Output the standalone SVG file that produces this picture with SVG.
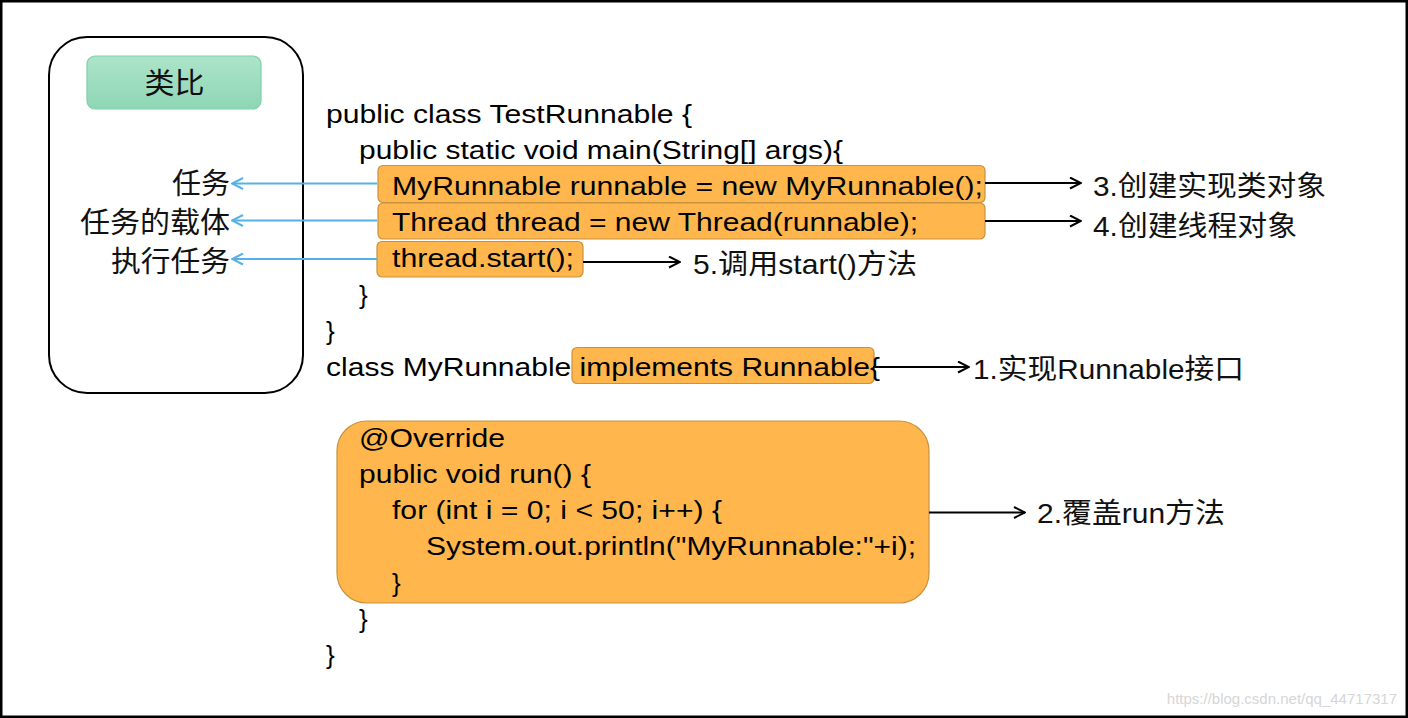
<svg xmlns="http://www.w3.org/2000/svg" width="1408" height="718" viewBox="0 0 1408 718">
<style>
.code{font-family:"Liberation Sans",Arial,sans-serif;font-size:26px;fill:#000}
.lbl{font-family:"Noto Sans CJK SC","Liberation Sans",sans-serif;font-size:29px;fill:#111}
.note{font-family:"Liberation Sans","Noto Sans CJK SC",sans-serif;font-size:28px;fill:#111}
.hl{fill:#FFB74D;stroke:#C9923F;stroke-width:1.2}
.blk{stroke:#000;stroke-width:2;fill:none}
.blu{stroke:#56B2E6;stroke-width:2.2;fill:none}
</style>
<defs>
<linearGradient id="g" x1="0" y1="0" x2="0" y2="1">
<stop offset="0" stop-color="#ACE4CA"/>
<stop offset="1" stop-color="#8FD6B5"/>
</linearGradient>
<marker id="ab" viewBox="0 0 13 13" refX="12" refY="6.5" markerWidth="13" markerHeight="13" markerUnits="userSpaceOnUse" orient="auto">
<path d="M1,1 L12,6.5 L1,12" fill="none" stroke="#000" stroke-width="2"/>
</marker>
<marker id="au" viewBox="0 0 13 13" refX="12" refY="6.5" markerWidth="13" markerHeight="13" markerUnits="userSpaceOnUse" orient="auto">
<path d="M1,1 L12,6.5 L1,12" fill="none" stroke="#56B2E6" stroke-width="2"/>
</marker>
</defs>
<rect x="0" y="0" width="1408" height="718" fill="#fff"/>
<rect x="1.25" y="1.25" width="1405.5" height="715.5" fill="none" stroke="#000" stroke-width="2.5"/>

<g id="analogy">
<rect x="49" y="37" width="254" height="356" rx="38" ry="38" fill="#fff" stroke="#000" stroke-width="2"/>
<rect x="87" y="56" width="174" height="53" rx="8" ry="8" fill="url(#g)" stroke="#80CFA9" stroke-width="1.2"/>
<text class="lbl" x="174.5" y="94" text-anchor="middle" textLength="60" lengthAdjust="spacingAndGlyphs">类比</text>
</g>
<g id="label-task"><text class="lbl" x="230" y="194" text-anchor="end" textLength="58" lengthAdjust="spacingAndGlyphs">任务</text></g>
<g id="label-carrier"><text class="lbl" x="230" y="233" text-anchor="end" textLength="150" lengthAdjust="spacingAndGlyphs">任务的载体</text></g>
<g id="label-run"><text class="lbl" x="230" y="272" text-anchor="end" textLength="119" lengthAdjust="spacingAndGlyphs">执行任务</text></g>

<g id="code-main">
<text class="code" x="326" y="122.5" textLength="366" lengthAdjust="spacingAndGlyphs">public class TestRunnable {</text>
<text class="code" x="359" y="158.7" textLength="484" lengthAdjust="spacingAndGlyphs">public static void main(String[] args){</text>
<text class="code" x="359" y="303.5">}</text>
<text class="code" x="326" y="339.7">}</text>
</g>
<g id="box-runnable">
<rect class="hl" x="378" y="165.5" width="607" height="37" rx="5"/>
<text class="code" x="392" y="194.9" textLength="591" lengthAdjust="spacingAndGlyphs">MyRunnable runnable = new MyRunnable();</text>
</g>
<g id="box-thread">
<rect class="hl" x="378" y="203" width="607" height="36" rx="5"/>
<text class="code" x="392" y="231.1" textLength="526" lengthAdjust="spacingAndGlyphs">Thread thread = new Thread(runnable);</text>
</g>
<g id="box-start">
<rect class="hl" x="377" y="241.5" width="206" height="35.5" rx="5"/>
<text class="code" x="392" y="267.3" textLength="182" lengthAdjust="spacingAndGlyphs">thread.start();</text>
</g>
<g id="box-implements">
<rect class="hl" x="572" y="347.5" width="302" height="36" rx="5"/>
<text class="code" x="326" y="375.9" textLength="554" lengthAdjust="spacingAndGlyphs">class MyRunnable implements Runnable{</text>
</g>
<g id="box-run">
<rect class="hl" x="337" y="421" width="592" height="182" rx="30" ry="30"/>
<text class="code" x="359" y="446.5" textLength="146" lengthAdjust="spacingAndGlyphs">@Override</text>
<text class="code" x="359" y="482.8" textLength="232" lengthAdjust="spacingAndGlyphs">public void run() {</text>
<text class="code" x="392" y="519" textLength="330" lengthAdjust="spacingAndGlyphs">for (int i = 0; i &lt; 50; i++) {</text>
<text class="code" x="426" y="555.4" textLength="490" lengthAdjust="spacingAndGlyphs">System.out.println("MyRunnable:"+i);</text>
<text class="code" x="392" y="591.7">}</text>
</g>
<g id="code-end">
<text class="code" x="359" y="628">}</text>
<text class="code" x="326" y="664.3">}</text>
</g>

<g id="note-3"><text class="note" x="1093" y="196" textLength="233" lengthAdjust="spacingAndGlyphs">3.创建实现类对象</text></g>
<g id="note-4"><text class="note" x="1093" y="236" textLength="204" lengthAdjust="spacingAndGlyphs">4.创建线程对象</text></g>
<g id="note-5"><text class="note" x="693" y="274" textLength="224" lengthAdjust="spacingAndGlyphs">5.调用start()方法</text></g>
<g id="note-1"><text class="note" x="973" y="379" textLength="271" lengthAdjust="spacingAndGlyphs">1.实现Runnable接口</text></g>
<g id="note-2"><text class="note" x="1037" y="523" textLength="188" lengthAdjust="spacingAndGlyphs">2.覆盖run方法</text></g>

<g id="connectors">
<line class="blu" x1="377" y1="183.5" x2="232" y2="183.5" marker-end="url(#au)"/>
<line class="blu" x1="377" y1="220.5" x2="232" y2="220.5" marker-end="url(#au)"/>
<line class="blu" x1="377" y1="259" x2="232" y2="259" marker-end="url(#au)"/>
<line class="blk" x1="985" y1="183" x2="1081" y2="183" marker-end="url(#ab)"/>
<line class="blk" x1="985" y1="221" x2="1081" y2="221" marker-end="url(#ab)"/>
<line class="blk" x1="583" y1="262" x2="680" y2="262" marker-end="url(#ab)"/>
<line class="blk" x1="873" y1="367" x2="969" y2="367" marker-end="url(#ab)"/>
<line class="blk" x1="929" y1="512.5" x2="1025" y2="512.5" marker-end="url(#ab)"/>
</g>

<text x="1397" y="704" text-anchor="end" font-family="Liberation Sans,Arial,sans-serif" font-size="15" fill="#D6D6D6">https://blog.csdn.net/qq_44717317</text>
</svg>
